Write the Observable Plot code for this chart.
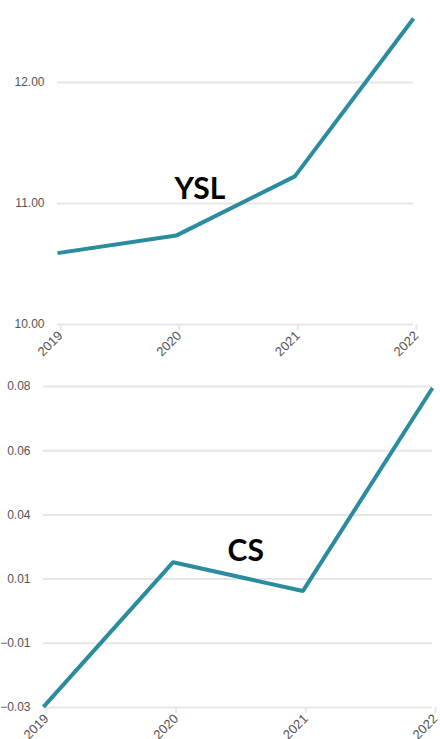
<!DOCTYPE html>
<html>
<head>
<meta charset="utf-8">
<script src="https://cdn.jsdelivr.net/npm/d3@7"></script>
<script src="https://cdn.jsdelivr.net/npm/@observablehq/plot@0.6"></script>
<style>
  html, body { margin: 0; padding: 0; background: #fff; }
  #chart { width: 440px; }
  #chart svg { display: block; }
</style>
</head>
<body>
<div id="chart"></div>
<script>
const years = [2019, 2020, 2021, 2022];
const yslValues = [10.59, 10.735, 11.225, 12.53];
const csValues = [-0.0298, 0.0198, 0.0099, 0.0795];
const yslTicks = [10, 11, 12];
const csTicks = [-0.03, -0.008, 0.014, 0.036, 0.058, 0.08];
const yslLabel = [{x: 2020.2, y: 11.12, text: "YSL"}];
const csLabel = [{x: 2020.56, y: 0.0236, text: "CS"}];

const lineColor = "#2a8c9c";
const gridColor = "#e6e6e6";
const tickColor = "#555";
const font = "'Liberation Sans', Arial, sans-serif";

function panel(values, yDomain, yTicks, label, opts) {
  const data = years.map((yr, i) => ({year: yr, value: values[i]}));
  return Plot.plot({
    width: 440,
    height: opts.height,
    marginTop: opts.mt,
    marginBottom: opts.mb,
    marginLeft: opts.ml,
    marginRight: opts.mr,
    style: {fontFamily: font, background: "#fff", overflow: "visible"},
    x: {type: "linear", domain: [years[0], years[years.length - 1]]},
    y: {domain: yDomain},
    marks: [
      Plot.gridY(yTicks, {stroke: gridColor, strokeOpacity: 1, strokeWidth: 2}),
      Plot.axisY(yTicks, {tickSize: 0, tickPadding: 13, tickFormat: d3.format(".2f"), fontSize: 12, fontFamily: font, fill: tickColor, label: null}),
      Plot.axisX(years, {tickSize: 6, stroke: gridColor, strokeWidth: 2, tickPadding: 3, tickRotate: -45, dx: 3, tickFormat: d3.format("d"), fontSize: 13, fontFamily: font, fill: tickColor, label: null}),
      Plot.line(data, {x: "year", y: "value", stroke: lineColor, strokeWidth: 4, strokeLinejoin: "miter", strokeLinecap: "butt"}),
      Plot.text(label, {x: "x", y: "y", text: "text", fontSize: 30, fontWeight: "bold", fill: "#000", fontFamily: "Lato, 'Open Sans', sans-serif", textAnchor: "middle"})
    ]
  });
}

const root = document.getElementById("chart");
root.append(panel(yslValues, [10, 12.53], yslTicks, yslLabel, {height: 370, mt: 18, mb: 46, ml: 57, mr: 27}));
root.append(panel(csValues, [-0.03, 0.08], csTicks, csLabel, {height: 369, mt: 16, mb: 32, ml: 43, mr: 8}));
</script>
</body>
</html>
